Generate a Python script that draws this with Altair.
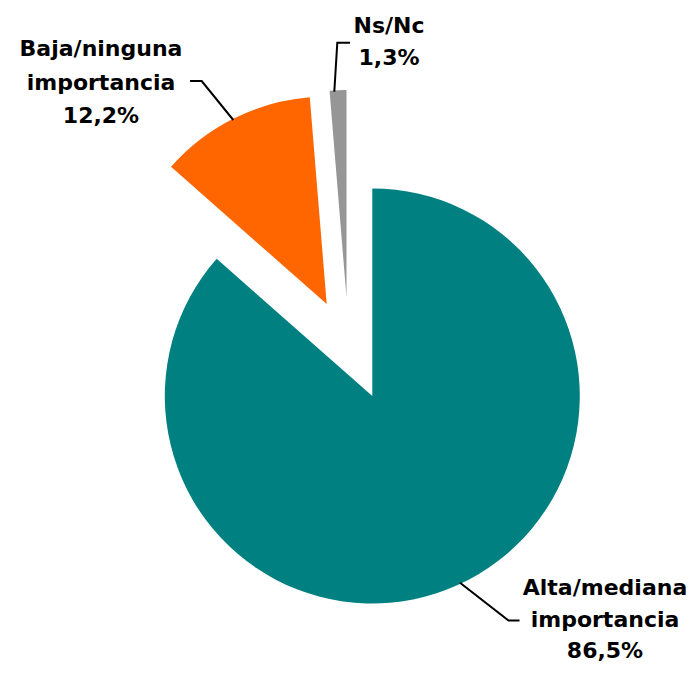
import math
import altair as alt
import pandas as pd

# ---- data ----
categories = ["Alta/mediana importancia", "Baja/ninguna importancia", "Ns/Nc"]
values = [86.5, 12.2, 1.3]
label_lines = [["Alta/mediana", "importancia"], ["Baja/ninguna", "importancia"], ["Ns/Nc"]]
colors = ["#008080", "#FF6600", "#969696"]

# ---- layout (pixels, chart coordinates) ----
W, H = 678, 657
CX, CY, R = 364.3, 388.0, 207.5
explode = {  # slice centre offsets
    "Alta/mediana importancia": (0.0, 0.0),
    "Baja/ninguna importancia": (-45.6, -92.0),
    "Ns/Nc": (-25.8, -98.5),
}
label_pos = {
    "Alta/mediana importancia": (597, 587.0, 31.5),
    "Baja/ninguna importancia": (93, 48.0, 33.5),
    "Ns/Nc": (381, 25.0, 32),
}
leaders = {
    "Alta/mediana importancia": [(452, 574.7), (500.5, 612.5), (511.5, 612.5)],
    "Baja/ninguna importancia": [(182, 73), (193.7, 73), (225.3, 112)],
    "Ns/Nc": [(342, 34.7), (329.3, 34.7), (326.3, 83.7)],
}

FONT = "DejaVu Sans"


def pct(v):
    return f"{v:.1f}".replace(".", ",") + "%"


slices = pd.DataFrame({
    "cat": categories,
    "value": values,
    "idx": list(range(len(categories))),
    "cx": [CX + explode[c][0] for c in categories],
    "cy": [CY + explode[c][1] for c in categories],
})

color_scale = alt.Scale(domain=categories, range=colors)

pie = alt.Chart(slices).transform_window(
    end="sum(value)", sort=[alt.SortField("idx")], frame=[None, 0]
).transform_calculate(
    start="datum.end - datum.value"
).mark_arc(radius=R, stroke=None).encode(
    x=alt.X("cx:Q", scale=None),
    y=alt.Y("cy:Q", scale=None),
    theta=alt.Theta("start:Q", scale=alt.Scale(domain=[0, 100], range=[0, 2 * math.pi])),
    theta2="end:Q",
    color=alt.Color("cat:N", scale=color_scale, legend=None),
)

text_rows = []
for c, v, lines in zip(categories, values, label_lines):
    x, y, lh = label_pos[c]
    for i, t in enumerate(lines + [pct(v)]):
        text_rows.append({"cat": c, "t": t, "x": x, "y": y + i * lh})
texts = pd.DataFrame(text_rows)

labels = alt.Chart(texts).mark_text(
    font=FONT, fontSize=22, fontWeight="bold", color="#000000",
    align="center", baseline="alphabetic"
).encode(
    x=alt.X("x:Q", scale=None),
    y=alt.Y("y:Q", scale=None),
    text="t:N",
)

lead_rows = []
for c in categories:
    for i, (x, y) in enumerate(leaders[c]):
        lead_rows.append({"cat": c, "i": i, "x": x, "y": y})
lead_df = pd.DataFrame(lead_rows)

lines = alt.Chart(lead_df).mark_line(color="#000000", strokeWidth=2).encode(
    x=alt.X("x:Q", scale=None),
    y=alt.Y("y:Q", scale=None),
    detail="cat:N",
    order="i:Q",
)

chart = alt.layer(pie, lines, labels).properties(
    width=W, height=H, padding=0, autosize="none"
).configure_view(stroke=None)

chart.save("out.html", embed_options={"renderer": "svg", "actions": False})
